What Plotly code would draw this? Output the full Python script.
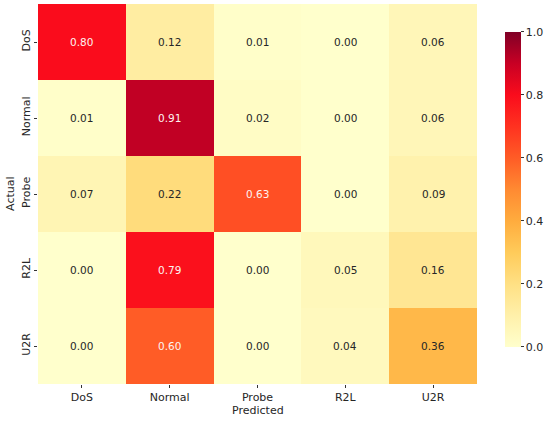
import plotly.graph_objects as go

# confusion matrix (row-normalised), rows = actual, cols = predicted
classes = ["DoS", "Normal", "Probe", "R2L", "U2R"]
dos_row = [0.80, 0.12, 0.01, 0.00, 0.06]
normal_row = [0.01, 0.91, 0.02, 0.00, 0.06]
probe_row = [0.07, 0.22, 0.63, 0.00, 0.09]
r2l_row = [0.00, 0.79, 0.00, 0.05, 0.16]
u2r_row = [0.00, 0.60, 0.00, 0.04, 0.36]
cbar_ticks = [0.0, 0.2, 0.4, 0.6, 0.8, 1.0]

z = [dos_row, normal_row, probe_row, r2l_row, u2r_row]

# YlOrRd-like scale, picked off the reference colour bar (a bit more saturated than stock)
cscale = [
    [0.00, "rgb(255,255,204)"],
    [0.10, "rgb(255,240,170)"],
    [0.20, "rgb(255,224,132)"],
    [0.30, "rgb(255,203,90)"],
    [0.40, "rgb(255,172,62)"],
    [0.50, "rgb(255,138,50)"],
    [0.60, "rgb(255,92,38)"],
    [0.70, "rgb(255,50,32)"],
    [0.80, "rgb(250,12,28)"],
    [0.90, "rgb(200,0,36)"],
    [1.00, "rgb(128,0,38)"],
]

fig = go.Figure(go.Heatmap(
    z=z, x=classes, y=classes,
    zmin=0, zmax=1,
    colorscale=cscale,
    colorbar=dict(
        x=1.064, xanchor="left",
        y=0.512, yanchor="middle",
        len=0.83, thickness=16, ypad=0, xpad=0,
        outlinewidth=0,
        tickvals=cbar_ticks,
        ticktext=[f"{t:.1f}" for t in cbar_ticks],
        ticks="outside", ticklen=3, tickcolor="#333",
        tickfont=dict(size=11, color="#262626"),
    ),
))

# cell values, white text on the dark cells like seaborn
for i, row in enumerate(z):
    for j, v in enumerate(row):
        fig.add_annotation(
            x=classes[j], y=classes[i], text=f"{v:.2f}",
            showarrow=False,
            font=dict(size=10.5, color="#fdf3f0" if v >= 0.55 else "#262626"),
        )

# axis titles placed by hand
fig.add_annotation(x=0.5, y=-0.071, xref="paper", yref="paper", text="Predicted",
                   xanchor="center", yanchor="middle",
                   showarrow=False, font=dict(size=11))
fig.add_annotation(x=-0.064, y=0.5, xref="paper", yref="paper", text="Actual",
                   xanchor="center", yanchor="middle",
                   textangle=-90, showarrow=False, font=dict(size=11))

fig.update_layout(
    width=550, height=421,
    margin=dict(l=38, r=73, t=4, b=37, autoexpand=False),
    plot_bgcolor="white", paper_bgcolor="white",
    font=dict(family="DejaVu Sans", color="#262626"),
    xaxis=dict(
        automargin=False,
        ticks="outside", ticklen=3, tickcolor="#333",
        tickfont=dict(size=11), showgrid=False, zeroline=False,
    ),
    yaxis=dict(
        automargin=False,
        autorange="reversed", tickangle=-90,
        ticks="outside", ticklen=3, tickcolor="#333",
        tickfont=dict(size=11), showgrid=False, zeroline=False,
    ),
)

# the page body has an 8px default margin, drop it so the figure sits at 0,0
fig.write_html("out.html", config={"displayModeBar": False},
               post_script="document.body.style.margin='0';")
